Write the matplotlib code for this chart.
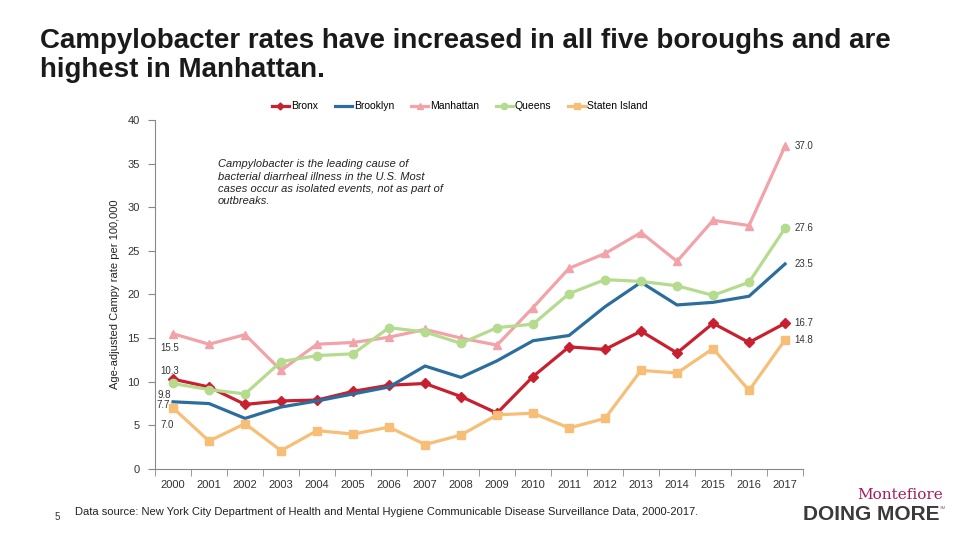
import matplotlib.pyplot as plt
from matplotlib.lines import Line2D

plt.rcParams['font.family'] = ['Liberation Sans', 'DejaVu Sans']

years = list(range(2000, 2018))
bronx = [10.3, 9.4, 7.4, 7.8, 7.9, 8.9, 9.6, 9.8, 8.3, 6.4, 10.6, 14.0, 13.7, 15.8, 13.3, 16.7, 14.5, 16.7]
brooklyn = [7.7, 7.5, 5.8, 7.1, 7.8, 8.6, 9.4, 11.8, 10.5, 12.4, 14.7, 15.3, 18.6, 21.4, 18.8, 19.1, 19.8, 23.5]
manhattan = [15.5, 14.3, 15.4, 11.3, 14.3, 14.5, 15.1, 16.0, 15.0, 14.2, 18.5, 23.0, 24.7, 27.1, 23.8, 28.5, 27.9, 37.0]
queens = [9.8, 9.1, 8.6, 12.3, 13.0, 13.2, 16.2, 15.7, 14.4, 16.2, 16.6, 20.1, 21.7, 21.5, 21.0, 19.9, 21.4, 27.6]
staten = [7.0, 3.2, 5.2, 2.1, 4.4, 4.0, 4.8, 2.8, 3.9, 6.2, 6.4, 4.7, 5.8, 11.3, 11.0, 13.8, 9.0, 14.8]

series = [
    ("Bronx", bronx, "#C8202F", "D"),
    ("Brooklyn", brooklyn, "#2B6E9E", None),
    ("Manhattan", manhattan, "#F2A3AA", "^"),
    ("Queens", queens, "#B5DB8E", "o"),
    ("Staten Island", staten, "#F7BE78", "s"),
]

fig = plt.figure(figsize=(9.6, 5.4), dpi=100)
ax = fig.add_axes([0.1615, 0.1315, 0.675, 0.6463])

x = list(range(len(years)))
handles = []
for name, vals, col, mk in series:
    ms = 5 if mk == "D" else 6
    ax.plot(x, vals, color=col, lw=2.3, marker=mk, ms=ms, zorder=3)
    handles.append(Line2D([], [], color=col, lw=2.3, marker=mk, ms=ms - 1.5))

ax.set_xlim(-0.5, len(years) - 0.5)
ax.set_ylim(0, 40)
ax.set_yticks(range(0, 41, 5))
ax.set_xticks(x)
ax.set_xticklabels([str(y) for y in years], fontsize=8, color="#333333")
ax.set_xticks([i + 0.5 for i in range(-1, len(years))], minor=True)
ax.tick_params(axis="x", which="major", length=0, pad=8)
ax.tick_params(axis="x", which="minor", length=5, color="#888888", direction="out")
ax.tick_params(axis="y", length=5, color="#888888", labelsize=8, labelcolor="#333333", pad=6)
for s in ["top", "right"]:
    ax.spines[s].set_visible(False)
ax.spines["left"].set_color("#888888")
ax.spines["bottom"].set_color("#888888")

ax.set_ylabel("Age-adjusted Campy rate per 100,000", fontsize=8, color="#222222", labelpad=5)

# end labels
for vals in [manhattan, queens, brooklyn, bronx, staten]:
    ax.annotate(f"{vals[-1]:.1f}", (x[-1], vals[-1]), xytext=(7, 0), textcoords="offset points",
                fontsize=7, color="#333333", va="center")

# start labels
starts = [(manhattan[0], -9, -10), (bronx[0], -9, 6), (queens[0], -11, -8), (brooklyn[0], -12, -2), (staten[0], -9, -12)]
for v, dx, dy in starts:
    ax.annotate(f"{v:.1f}", (x[0], v), xytext=(dx, dy), textcoords="offset points",
                fontsize=7, color="#333333", va="center")

ax.text(1.25, 35.5, "Campylobacter is the leading cause of\nbacterial diarrheal illness in the U.S. Most\n"
        "cases occur as isolated events, not as part of\noutbreaks.",
        fontsize=8, style="italic", color="#222222", va="top", linespacing=1.3)

fig.legend(handles, [s[0] for s in series], loc="center", bbox_to_anchor=(0.479, 0.803), ncol=5,
           frameon=False, fontsize=7.5, handlelength=1.7, columnspacing=1.6, handletextpad=0.15)

fig.text(0.042, 0.897, "Campylobacter rates have increased in all five boroughs and are\nhighest in Manhattan.",
         fontsize=20, fontweight="bold", color="#1a1a1a", va="center", linespacing=1.12)

fig.text(0.057, 0.043, "5", fontsize=7, color="#333333", va="center")
fig.text(0.078, 0.051, "Data source: New York City Department of Health and Mental Hygiene Communicable Disease "
         "Surveillance Data, 2000-2017.", fontsize=8, color="#222222", va="center")

fig.text(0.938, 0.083, "Montefiore", fontsize=11, family="DejaVu Serif", color="#A51C5E", ha="center", va="center")
fig.text(0.908, 0.048, "DOING MORE", fontsize=15, fontweight="bold", color="#3a3a3a", ha="center", va="center")
fig.text(0.982, 0.06, "SM", fontsize=3, color="#777777", ha="center", va="center")

fig.savefig("out.png", dpi=100)
